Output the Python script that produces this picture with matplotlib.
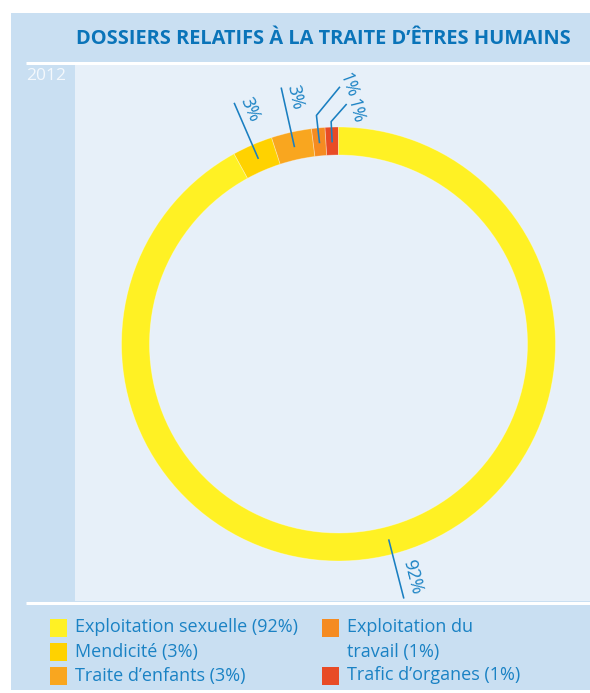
import matplotlib
matplotlib.use("Agg")
import matplotlib.pyplot as plt
import numpy as np
from matplotlib.patches import Rectangle

# ---------------- data ----------------
title = "DOSSIERS RELATIFS À LA TRAITE D’ÊTRES HUMAINS"
year_label = "2012"
categories = ["Exploitation sexuelle", "Mendicité", "Traite d’enfants",
              "Exploitation du\ntravail", "Trafic d’organes"]
values = [92, 3, 3, 1, 1]
colors = ["#fff124", "#ffd200", "#f9a61f", "#f58b21", "#e84b26"]

# ---------------- style ----------------
W, H = 590, 693
PANEL = "#c9dff2"
INNER = "#e7f0f9"
TXT = "#1a82c4"
TITLE_C = "#0a74b9"
FONT = "Open Sans"

fig = plt.figure(figsize=(W / 100, H / 100), dpi=100)
fig.patch.set_facecolor("white")
ax = fig.add_axes([0, 0, 1, 1])


def Y(py):
    return H - py


def px2pt(p):
    return p * 72 / 100


# background panels
ax.add_patch(Rectangle((11, Y(690)), W - 11, 690 - 13, color=PANEL, zorder=0, lw=0))
ax.add_patch(Rectangle((75, Y(601)), W - 75, 601 - 64, color=INNER, zorder=0.5, lw=0))
ax.plot([26, W], [Y(62.5), Y(62.5)], color="white", lw=px2pt(3), zorder=1, solid_capstyle="butt")
ax.plot([26, W], [Y(602.5), Y(602.5)], color="white", lw=px2pt(3), zorder=1, solid_capstyle="butt")

ax.text(323, Y(38.5), title, ha="center", va="center", fontsize=14.4, fontweight="bold",
        color=TITLE_C, family=FONT)
ax.text(26, Y(76), year_label, ha="left", va="center", fontsize=12.5, color="#f4f8fc",
        family=FONT)

# donut
cx, cy, R, RW = 338.5, Y(344), 217, 28
wedges, _ = ax.pie(values[::-1], colors=colors[::-1], startangle=90, counterclock=True,
                   radius=R, center=(cx, cy), frame=True,
                   wedgeprops=dict(width=RW, linewidth=0.6, edgecolor=(1, 1, 1, 0.35)))
wedges = wedges[::-1]  # back to category order


def polar(r, ang):
    a = np.deg2rad(ang)
    return cx + r * np.cos(a), cy + r * np.sin(a)


LINE_C = "#1a7fc1"
lw_line = px2pt(1.6)
r_mid = R - RW / 2 - 0.5
LBL_FS = 13

for i, (v, wdg) in enumerate(zip(values, wedges)):
    mid = (wdg.theta1 + wdg.theta2) / 2
    label = f"{v}%"
    if i in (0, 1, 2):
        x0, y0 = polar(r_mid, mid)
        x1, y1 = polar(262, mid)
        ax.plot([x0, x1], [y0, y1], color=LINE_C, lw=lw_line, zorder=3)
        if i == 0:
            rot = mid
            tx, ty = polar(244, mid + 3.2)
        else:
            rot = mid + 180
            tx, ty = polar(251, mid - 2.7)
        rot = (rot + 180) % 360 - 180
        ax.text(tx, ty, label, rotation=rot, rotation_mode="anchor", ha="center", va="center",
                fontsize=LBL_FS, color=TXT, family=FONT, zorder=4)
    else:
        # bent leader lines for the two smallest slices
        x0, y0 = polar(r_mid, mid)
        if i == 3:
            kink = (x0 - 3, y0 + 27)
            end = (kink[0] + 23, kink[1] + 28)
            toff, rot = (9, -2), -70
        else:
            kink = (x0 - 1, y0 + 20)
            end = (kink[0] + 15, kink[1] + 17)
            toff, rot = (9, 6), -76
        ax.plot([x0, kink[0], end[0]], [y0, kink[1], end[1]], color=LINE_C, lw=lw_line,
                zorder=3)
        ax.text(end[0] + toff[0], end[1] - toff[1], label, rotation=rot, rotation_mode="anchor",
                ha="center", va="center", fontsize=LBL_FS, color=TXT, family=FONT, zorder=4)

# legend (two columns, manual layout)
rows_y = [627.5, 651.5, 675.5]
slots = [(50, 0), (50, 1), (50, 2), (322, 0), (322, 2)]
for cat, v, c, (lx, row) in zip(categories, values, colors, slots):
    yy = rows_y[row]
    ax.add_patch(Rectangle((lx, Y(yy + 9)), 17, 18, color=c, lw=0, zorder=2))
    lines = f"{cat} ({v}%)".split("\n")
    for k, line in enumerate(lines):
        ax.text(lx + 25, Y(rows_y[row + k]), line, ha="left", va="center", fontsize=13,
                color=TXT, family=FONT, zorder=3)

ax.set_xlim(0, W)
ax.set_ylim(0, H)
ax.set_aspect("auto")
ax.axis("off")

fig.savefig("out.png", dpi=100, facecolor="white")
